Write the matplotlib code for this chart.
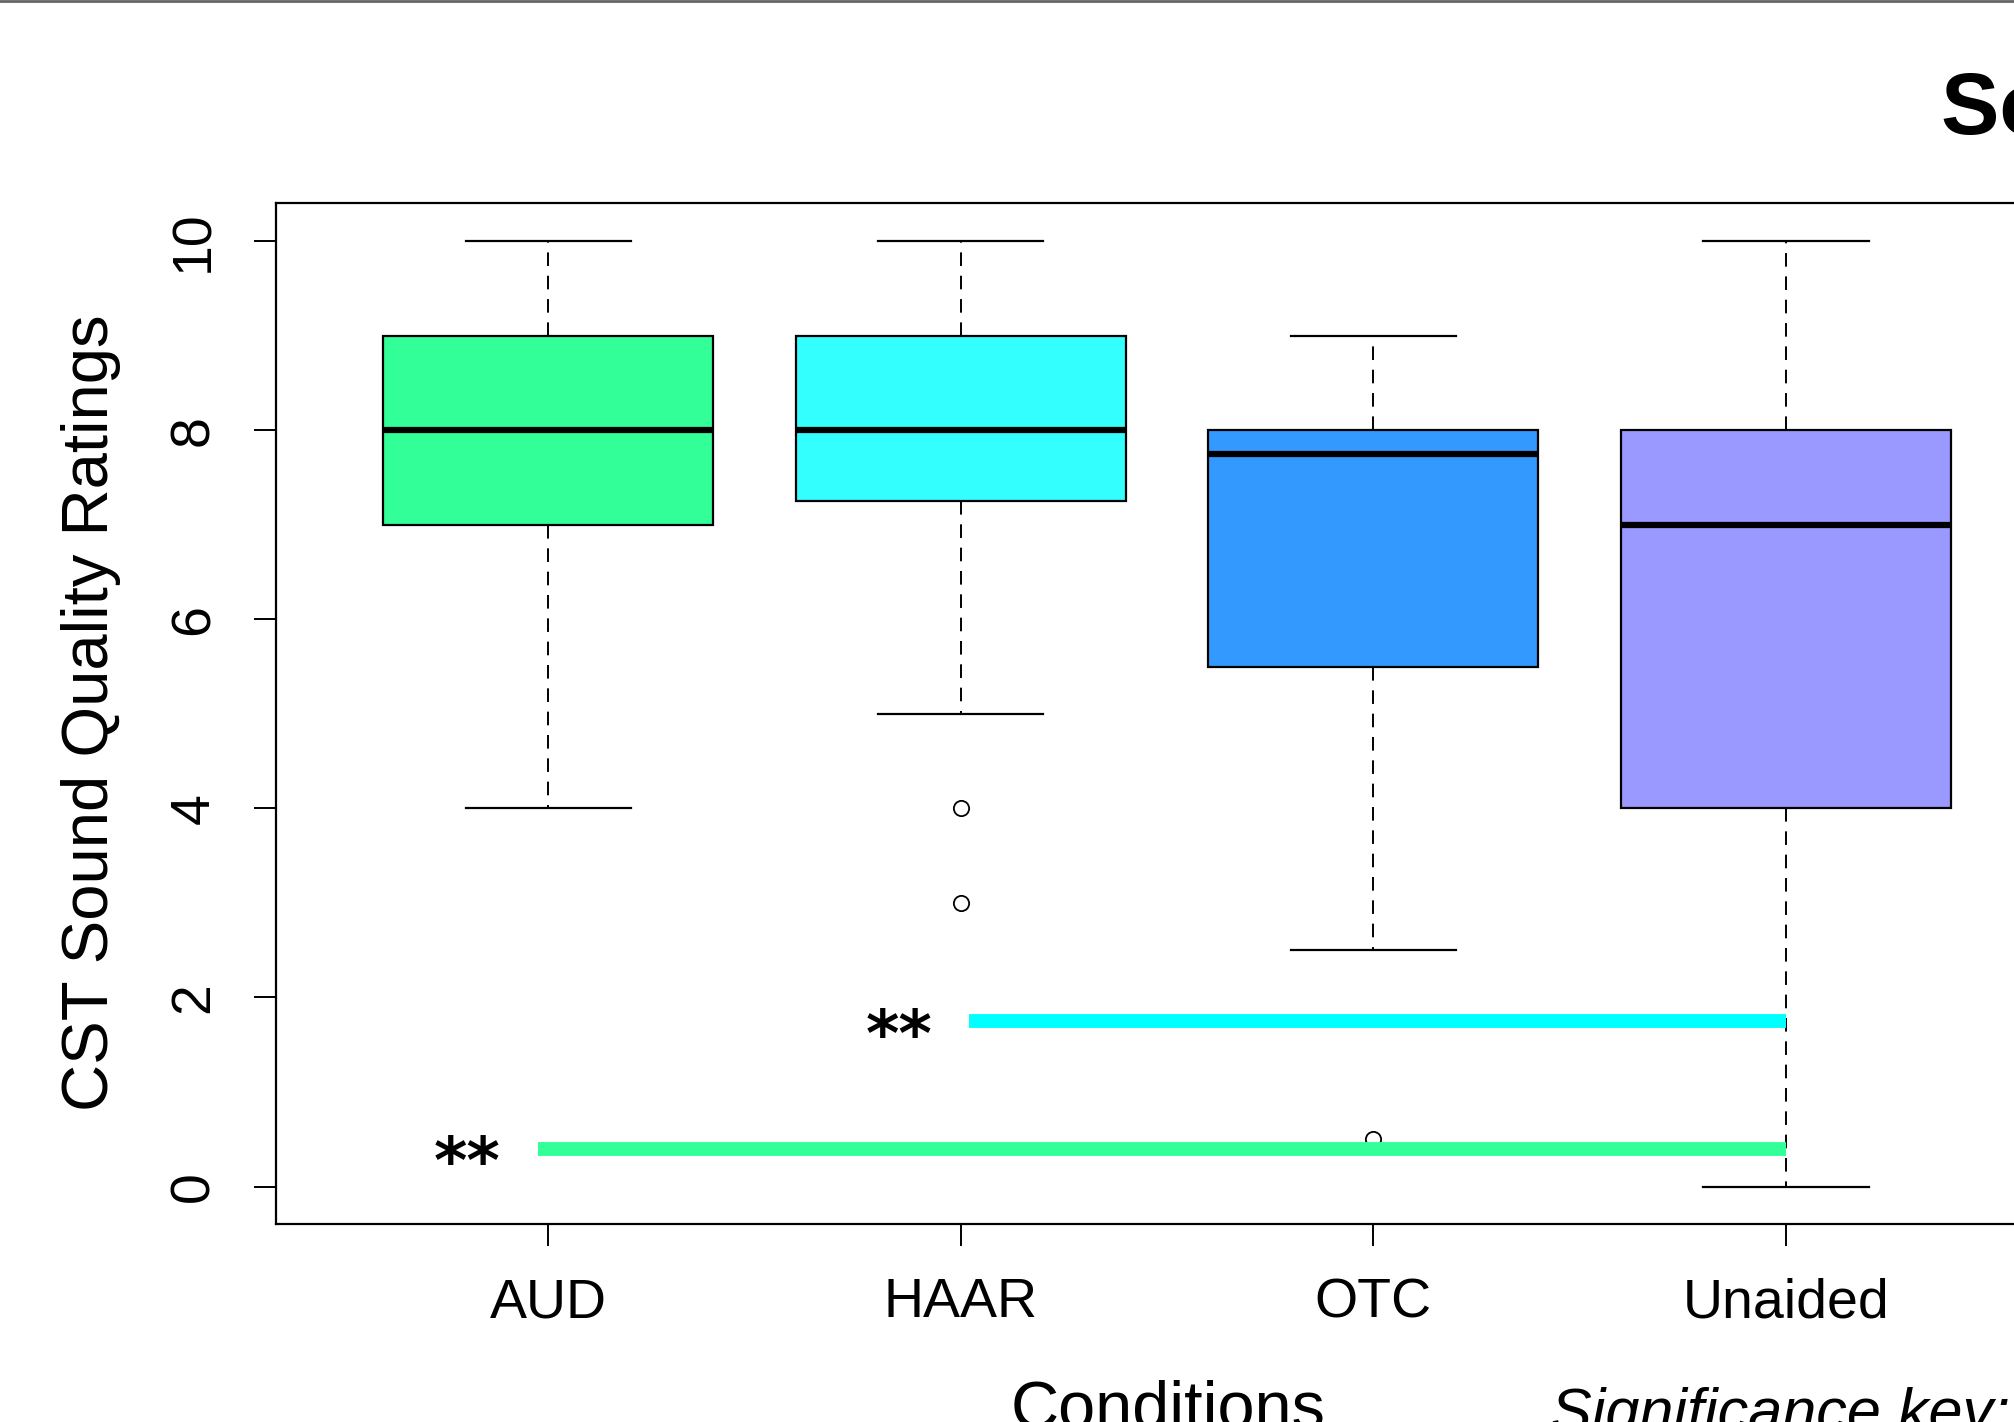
"""Boxplot of CST sound quality ratings by condition."""

import matplotlib
matplotlib.use("Agg")
import matplotlib.pyplot as plt
from matplotlib.lines import Line2D

plt.rcParams["font.family"] = ["Liberation Sans", "DejaVu Sans"]

# data
conditions = ["AUD", "HAAR", "OTC", "Unaided"]
medians = [8, 8, 7.75, 7]
q1 = [7, 7.25, 5.5, 4]
q3 = [9, 9, 8, 8]
whisker_low = [4, 5, 2.5, 0]
whisker_high = [10, 10, 9, 10]
outliers = [[], [4, 3], [0.5], []]

# significance bars: start/end on the condition axis, height, label
sig_start = [2.02, 0.975]
sig_end = [4.0, 4.0]
sig_y = [1.75, 0.4]
sig_label = ["**", "**"]

box_colors = ["#33FF99", "#33FFFF", "#3399FF", "#9999FF"]
sig_colors = ["#00FFFF", "#33FF99"]

fig = plt.figure(figsize=(20.14, 14.22), dpi=100)
# the original figure was wider; this view cuts it on the right and bottom
ax = fig.add_axes([0.137, 0.139, 0.885, 0.718])

stats = []
for i, name in enumerate(conditions):
    stats.append({
        "label": name,
        "med": medians[i],
        "q1": q1[i],
        "q3": q3[i],
        "whislo": whisker_low[i],
        "whishi": whisker_high[i],
        "fliers": outliers[i],
    })

positions = list(range(1, len(conditions) + 1))
bp = ax.bxp(
    stats,
    positions=positions,
    widths=0.8,
    patch_artist=True,
    showfliers=True,
    boxprops=dict(linewidth=1.6, edgecolor="black"),
    medianprops=dict(color="black", linewidth=4.5, solid_capstyle="butt"),
    whiskerprops=dict(color="black", linewidth=1.4, linestyle=(0, (7, 5))),
    capprops=dict(color="black", linewidth=1.6),
    capwidths=0.4,
    flierprops=dict(marker="o", markerfacecolor="none", markeredgecolor="black",
                    markersize=11, markeredgewidth=1.3),
)
for patch, col in zip(bp["boxes"], box_colors):
    patch.set_facecolor(col)

for xs, xe, y, lab, col in zip(sig_start, sig_end, sig_y, sig_label, sig_colors):
    ax.plot([xs, xe], [y, y], color=col, linewidth=10, solid_capstyle="butt", zorder=5)
    ax.annotate(lab, xy=(xs - 0.09, y), xytext=(0, -25), textcoords="offset points",
                ha="right", va="baseline", fontsize=46, fontweight="bold",
                family="DejaVu Sans", color="black")

ax.set_xlim(0.34, 4.66)
ax.set_ylim(-0.4, 10.4)
ax.set_yticks([0, 2, 4, 6, 8, 10])
ax.set_xticks(positions)
ax.set_xticklabels(conditions)

for sp in ax.spines.values():
    sp.set_linewidth(1.6)
ax.tick_params(axis="both", direction="out", length=16, width=1.4, labelsize=40)
ax.tick_params(axis="x", pad=22)
ax.tick_params(axis="y", pad=24, labelrotation=90)
for lab in ax.get_yticklabels():
    lab.set_va("center")

fig.text(0.045, 0.499, "CST Sound Quality Ratings", rotation=90,
         ha="center", va="center", fontsize=47)
fig.text(0.580, -0.004, "Conditions", ha="center", va="baseline", fontsize=48)
fig.text(0.770, -0.006, "Significance key: * p<0.05, ** p<0.01", ha="left",
         va="baseline", fontsize=44, style="italic")
fig.text(0.964, 0.906, "Sound Quality", ha="left", va="baseline",
         fontsize=63, fontweight="bold")

fig.add_artist(Line2D([0, 1], [0.999, 0.999], color="#666666", linewidth=2,
                      transform=fig.transFigure))

fig.savefig("out.png", dpi=100)
plt.close(fig)
